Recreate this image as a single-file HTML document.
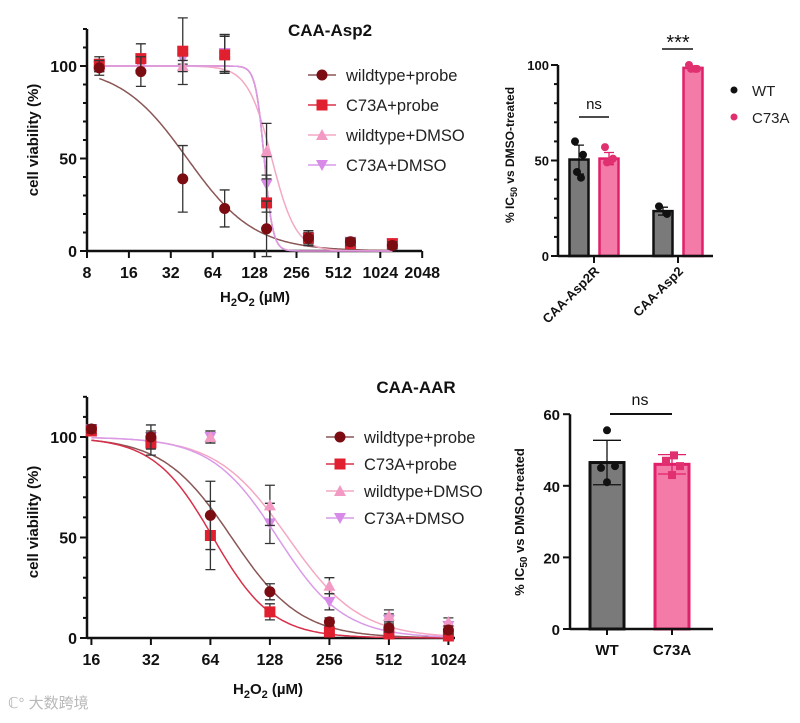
<!DOCTYPE html>
<html><head><meta charset="utf-8"><style>
body{margin:0;background:#fff;width:800px;height:718px;overflow:hidden;font-family:"Liberation Sans","Noto Sans CJK SC",sans-serif}
svg text{font-family:"Liberation Sans","Noto Sans CJK SC",sans-serif}
</style></head><body>
<svg id="s" width="800" height="718" xmlns="http://www.w3.org/2000/svg"></svg>
<script>
// ---- Chart A (CAA-Asp2 dose response) data ----
const aConc = [9.8, 19.5, 39, 78, 156, 312, 625, 1250];
const aWtProbe = [99, 97, 39, 23, 12, 7, 5, 3];
const aC73Probe = [101, 104, 108, 106, 26, 7, 4, 4];
const aWtDmso = [100, 100, 100, 107, 54, 8, 5, 4];
const aC73Dmso = [100, 100, 104, 107, 36, 7, 5, 4];
const aErr = [4, 8, 18, 10, 15, 4, 2, 2];
const aErrDmso = [3, 4, 3, 10, 15, 3, 2, 2];
const aIC50 = [42, 150, 170, 150];
const aHill = [1.8, 14, 5, 14];
const aXTicks = [8, 16, 32, 64, 128, 256, 512, 1024, 2048];
// ---- Chart C (CAA-AAR dose response) data ----
const cConc = [16, 32, 64, 128, 256, 512, 1024];
const cWtProbe = [104, 100, 61, 23, 8, 5, 4];
const cC73Probe = [103, 97, 51, 13, 3, 2, 1];
const cWtDmso = [104, 100, 100, 66, 26, 11, 8];
const cC73Dmso = [104, 100, 100, 57, 18, 9, 6];
const cErr = [2, 6, 17, 4, 2, 2, 2];
const cErrDmso = [2, 2, 3, 10, 4, 3, 2];
const cIC50 = [82, 66, 158, 140];
const cHill = [2.5, 2.9, 2.4, 2.6];
const cXTicks = [16, 32, 64, 128, 256, 512, 1024];
// ---- Chart B (IC50 bars) data ----
const bGroups = ["CAA-Asp2R", "CAA-Asp2"];
const bWT = [50.5, 23.5];
const bC73 = [51, 98.5];
const bWTpts = [[60, 53, 44, 41], [26, 22]];
const bC73pts = [[57, 51, 49, 50], [100, 98, 98, 98]];
// ---- Chart D (IC50 bars) data ----
const dCats = ["WT", "C73A"];
const dVals = [46.5, 46];
const dErr = [6.2, 2.7];
const dWTpts = [55.5, 45.5, 45, 41];
const dC73pts = [48.5, 47, 45.5, 43];

const S = document.getElementById('s');
const NS = 'http://www.w3.org/2000/svg';
function el(tag, attrs, parent) {
  const e = document.createElementNS(NS, tag);
  for (const k in attrs) e.setAttribute(k, attrs[k]);
  (parent || S).appendChild(e);
  return e;
}
function txt(x, y, s, size, anchor, weight, fill, parent) {
  const t = el('text', {x: x, y: y, 'font-size': size, 'text-anchor': anchor || 'middle', 'font-weight': weight || 'normal', fill: fill || '#111'}, parent);
  t.textContent = s;
  return t;
}
const cols = ['#7a0c12', '#e0202e', '#f29ac3', '#d88ae8'];
const curveCols = ['#8a5656', '#d8304a', '#f4a8c4', '#d99be8'];
const names = ['wildtype+probe', 'C73A+probe', 'wildtype+DMSO', 'C73A+DMSO'];

function marker(g, kind, x, y, c) {
  let m;
  if (kind === 0) m = el('circle', {cx: x, cy: y, r: 5.5, fill: c}, g);
  else if (kind === 1) m = el('rect', {x: x - 5.5, y: y - 5.5, width: 11, height: 11, fill: c}, g);
  else if (kind === 2) m = el('polygon', {points: `${x},${y - 6} ${x - 6},${y + 5} ${x + 6},${y + 5}`, fill: c}, g);
  else m = el('polygon', {points: `${x},${y + 6} ${x - 6},${y - 5} ${x + 6},${y - 5}`, fill: c}, g);
  return m;
}

function doseChart(cfg) {
  const g = el('g', {});
  
  
  const X = v => cfg.x0 + Math.log2(v / cfg.xmin) * cfg.dx;
  const Y = v => cfg.y0 - v * cfg.dy;
  const ya = el('line', {x1: cfg.x0, y1: cfg.ytop, x2: cfg.x0, y2: cfg.y0, stroke: '#111', 'stroke-width': 2.5}, g);
  
  
  const xa = el('line', {x1: cfg.x0, y1: cfg.y0, x2: cfg.xend, y2: cfg.y0, stroke: '#111', 'stroke-width': 2.5}, g);
  
  
  for (let v = 0; v <= 120; v += 10) {
    const major = v % 50 === 0;
    el('line', {x1: cfg.x0 - (major ? 7 : 4), y1: Y(v), x2: cfg.x0, y2: Y(v), stroke: '#111', 'stroke-width': 2}, g);
    if (major) {
      const t = txt(cfg.x0 - 10, Y(v) + 6, String(v), 16, 'end', 'bold', '#111', g);
      
      
    }
  }
  cfg.ticks.forEach(v => {
    el('line', {x1: X(v), y1: cfg.y0, x2: X(v), y2: cfg.y0 + 7, stroke: '#111', 'stroke-width': 2}, g);
    const t = txt(X(v), cfg.y0 + 27, String(v), 16, 'middle', 'bold', '#111', g);
    
    
  });
  const xt = el('text', {x: cfg.xtX, y: cfg.xtY, 'font-size': 15, 'font-weight': 'bold', 'text-anchor': 'middle', fill: '#111'}, g);
  xt.innerHTML = 'H<tspan font-size="11" dy="4">2</tspan><tspan dy="-4">O</tspan><tspan font-size="11" dy="4">2</tspan><tspan dy="-4"> (µM)</tspan>';
  
  
  const yt = txt(0, 0, 'cell viability (%)', 15, 'middle', 'bold', '#111', g);
  yt.setAttribute('transform', `translate(${cfg.ytX},${cfg.ytY}) rotate(-90)`);
  
  
  const tt = txt(cfg.titleX, cfg.titleY, cfg.title, 17, 'middle', 'bold', '#111', g);
  
  
  for (let s = 0; s < 4; s++) {
    let d = '';
    const lo = Math.log2(cfg.conc[0]), hi = Math.log2(cfg.conc[cfg.conc.length - 1]);
    for (let i = 0; i <= 200; i++) {
      const lx = lo + (hi - lo) * i / 200;
      const v = Math.pow(2, lx);
      const yv = 100 / (1 + Math.pow(v / cfg.ic50[s], cfg.hill[s]));
      d += (i ? 'L' : 'M') + X(v).toFixed(1) + ' ' + Y(yv).toFixed(1);
    }
    const p = el('path', {d: d, fill: 'none', stroke: curveCols[s], 'stroke-width': 1.5}, g);
    
    
  }
  for (let s = 3; s >= 0; s--) {
    const ser = cfg.series[s];
    ser.forEach((v, i) => {
      const x = X(cfg.conc[i]), y = Y(v), e = (s < 2 ? cfg.err : cfg.errD)[i];
      const eb = el('path', {d: `M${x} ${Y(v + e)}V${Y(v - e)}M${x - 5} ${Y(v + e)}H${x + 5}M${x - 5} ${Y(v - e)}H${x + 5}`, stroke: '#333', 'stroke-width': 1.3, fill: 'none'}, g);
      
      
      const m = marker(g, s, x, y, cols[s]);
      
      
    });
  }
  for (let s = 0; s < 4; s++) {
    const ly = cfg.legY + s * cfg.legDy;
    const lg = el('g', {}, g);
    
    
    el('line', {x1: cfg.legX - 14, y1: ly, x2: cfg.legX + 14, y2: ly, stroke: curveCols[s], 'stroke-width': 1.5}, lg);
    marker(lg, s, cfg.legX, ly, cols[s]);
    txt(cfg.legX + 24, ly + 6, names[s], 16.5, 'start', 'normal', '#222', lg);
  }
}

doseChart({name: 'chart-caa-asp2-viability', x0: 87, xmin: 8, dx: 41.9, xend: 422, y0: 251, dy: 1.85, ytop: 29,
  ticks: aXTicks, conc: aConc, series: [aWtProbe, aC73Probe, aWtDmso, aC73Dmso], err: aErr, errD: aErrDmso, ic50: aIC50, hill: aHill,
  xtX: 255, xtY: 302, ytX: 38, ytY: 140, title: 'CAA-Asp2', titleX: 330, titleY: 36, legX: 322, legY: 75, legDy: 30});
doseChart({name: 'chart-caa-aar-viability', x0: 87, xmin: 15.2, dx: 59.5, xend: 455, y0: 638, dy: 2.01, ytop: 397,
  ticks: cXTicks, conc: cConc, series: [cWtProbe, cC73Probe, cWtDmso, cC73Dmso], err: cErr, errD: cErrDmso, ic50: cIC50, hill: cHill,
  xtX: 268, xtY: 694, ytX: 38, ytY: 522, title: 'CAA-AAR', titleX: 416, titleY: 393, legX: 340, legY: 437, legDy: 27});

function pt(g, x, y, c, sq) {
  const m = sq ? el('rect', {x: x - 4, y: y - 4, width: 8, height: 8, fill: c}, g) : el('circle', {cx: x, cy: y, r: 4, fill: c}, g);
  
  
}

(function () {
  const g = el('g', {});
  
  
  const x0 = 558, y0 = 256, dy = 1.91;
  const Y = v => y0 - v * dy;
  const gx = [594, 678];
  bGroups.forEach((name, i) => {
    [[bWT, bWTpts, '#7a7a7a', '#111', -15, '#111'], [bC73, bC73pts, '#f47aa8', '#e0206a', 15, '#e0306f']].forEach(([vals, pts, fill, stroke, off, pc]) => {
      const cx = gx[i] + off;
      const b = el('rect', {x: cx - 9.5, y: Y(vals[i]), width: 19, height: vals[i] * dy, fill: fill, stroke: stroke, 'stroke-width': 2.5}, g);
      
      
      const ps = pts[i];
      const mean = vals[i];
      const sd = Math.sqrt(ps.reduce((a, p) => a + (p - mean) * (p - mean), 0) / ps.length);
      el('path', {d: `M${cx} ${Y(mean + sd)}V${Y(mean - sd)}M${cx - 5} ${Y(mean + sd)}H${cx + 5}M${cx - 5} ${Y(mean - sd)}H${cx + 5}`, stroke: stroke, 'stroke-width': 1.3, fill: 'none'}, g);
      ps.forEach((p, k) => pt(g, cx + (k % 2 ? 4 : -4) * (k > 1 ? 0.5 : 1), Y(p), pc, false));
    });
    el('line', {x1: gx[i], y1: y0, x2: gx[i], y2: y0 + 7, stroke: '#111', 'stroke-width': 2}, g);
    const t = txt(0, 0, name, 13, 'end', 'bold', '#111', g);
    t.setAttribute('transform', `translate(${gx[i] + 6},${y0 + 16}) rotate(-45)`);
    
    
  });
  el('line', {x1: x0, y1: Y(100), x2: x0, y2: y0, stroke: '#111', 'stroke-width': 2.5}, g);
  el('line', {x1: x0, y1: y0, x2: 713, y2: y0, stroke: '#111', 'stroke-width': 2.5}, g);
  for (let v = 0; v <= 100; v += 10) {
    el('line', {x1: x0 - (v % 50 ? 4 : 7), y1: Y(v), x2: x0, y2: Y(v), stroke: '#111', 'stroke-width': 2}, g);
    if (v % 50 === 0) txt(x0 - 9, Y(v) + 5, String(v), 13, 'end', 'bold', '#111', g);
  }
  const yt = el('text', {'font-size': 12, 'font-weight': 'bold', 'text-anchor': 'middle', fill: '#111', transform: 'translate(514,155) rotate(-90)'}, g);
  yt.innerHTML = '% IC<tspan font-size="9" dy="3">50</tspan><tspan dy="-3"> vs DMSO-treated</tspan>';
  
  
  el('line', {x1: 579, y1: 117, x2: 609, y2: 117, stroke: '#111', 'stroke-width': 1.5}, g);
  txt(594, 109, 'ns', 15, 'middle', 'normal', '#111', g);
  el('line', {x1: 662, y1: 49, x2: 693, y2: 49, stroke: '#111', 'stroke-width': 1.5}, g);
  txt(678, 49, '***', 20, 'middle', 'normal', '#111', g);
  const l1 = el('g', {}, g);
  
  
  el('circle', {cx: 734, cy: 90, r: 3.5, fill: '#111'}, l1);
  txt(752, 96, 'WT', 15, 'start', 'normal', '#222', l1);
  const l2 = el('g', {}, g);
  
  
  el('circle', {cx: 734, cy: 117, r: 3.5, fill: '#e0306f'}, l2);
  txt(752, 123, 'C73A', 15, 'start', 'normal', '#222', l2);
})();

(function () {
  const g = el('g', {});
  
  
  const x0 = 570, y0 = 629, dy = 3.58;
  const Y = v => y0 - v * dy;
  const cx = [607, 672];
  const fills = ['#7a7a7a', '#f47aa8'], strokes = ['#111', '#e0206a'];
  const pts = [dWTpts, dC73pts];
  dCats.forEach((c, i) => {
    const b = el('rect', {x: cx[i] - 17, y: Y(dVals[i]), width: 34, height: dVals[i] * dy, fill: fills[i], stroke: strokes[i], 'stroke-width': 3}, g);
    
    
    const v = dVals[i], e = dErr[i];
    el('path', {d: `M${cx[i]} ${Y(v + e)}V${Y(v - e)}M${cx[i] - 14} ${Y(v + e)}H${cx[i] + 14}M${cx[i] - 14} ${Y(v - e)}H${cx[i] + 14}`, stroke: strokes[i], 'stroke-width': 1.3, fill: 'none'}, g);
    pts[i].forEach((p, k) => pt(g, cx[i] + (i === 0 ? [0, 8, -6, 0] : [2, -6, 8, 0])[k], Y(p), i ? '#e0306f' : '#111', i === 1));
    el('line', {x1: cx[i], y1: y0, x2: cx[i], y2: y0 + 6, stroke: '#111', 'stroke-width': 2}, g);
    const t = txt(cx[i], y0 + 26, c, 15, 'middle', 'bold', '#111', g);
    
    
  });
  el('line', {x1: x0, y1: Y(60), x2: x0, y2: y0, stroke: '#111', 'stroke-width': 2.5}, g);
  el('line', {x1: x0, y1: y0, x2: 713, y2: y0, stroke: '#111', 'stroke-width': 2.5}, g);
  for (let v = 0; v <= 60; v += 20) {
    el('line', {x1: x0 - 7, y1: Y(v), x2: x0, y2: Y(v), stroke: '#111', 'stroke-width': 2}, g);
    txt(x0 - 10, Y(v) + 6, String(v), 15, 'end', 'bold', '#111', g);
  }
  const yt = el('text', {'font-size': 13, 'font-weight': 'bold', 'text-anchor': 'middle', fill: '#111', transform: 'translate(524,522) rotate(-90)'}, g);
  yt.innerHTML = '% IC<tspan font-size="10" dy="3">50</tspan><tspan dy="-3"> vs DMSO-treated</tspan>';
  
  
  el('line', {x1: 610, y1: 414, x2: 672, y2: 414, stroke: '#111', 'stroke-width': 2}, g);
  txt(640, 405, 'ns', 16, 'middle', 'normal', '#111', g);
})();

const wm = txt(8, 708, 'ℂ° 大数跨境', 15, 'start', 'normal', '#b8b8b8');


</script>
</body></html>
